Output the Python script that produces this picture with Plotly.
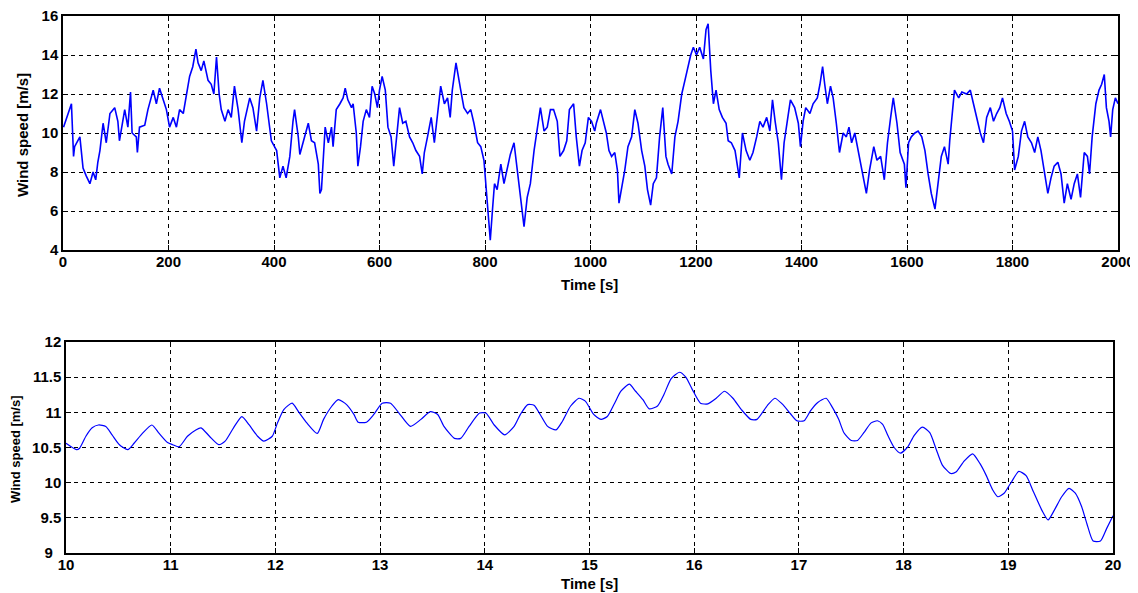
import plotly.graph_objects as go

# ---- top panel data: 0..2000 s ----
time_long = [1, 16, 20, 22, 32, 35, 38, 44, 51, 57, 62, 66, 70, 76, 82, 89, 98, 104, 107, 117,
             123, 128, 131, 139, 141, 145, 155, 161, 171, 177, 183, 190, 196, 202, 209, 215, 221, 228, 234, 240,
             246, 252, 256, 262, 267, 275, 281, 286, 291, 296, 300, 307, 313, 319, 325, 332, 339, 344, 354, 360,
             367, 373, 379, 386, 395, 405, 411, 417, 423, 430, 436, 439, 446, 449, 455, 465, 471, 477, 484, 487,
             490, 493, 497, 503, 509, 512, 518, 525, 531, 535, 540, 547, 550, 556, 559, 564, 569, 575, 581, 586,
             591, 596, 600, 605, 611, 616, 622, 627, 632, 638, 644, 650, 657, 663, 669, 676, 681, 685, 691, 698,
             704, 710, 716, 723, 729, 734, 738, 745, 749, 754, 760, 767, 773, 779, 786, 792, 798, 804, 810, 814,
             818, 823, 830, 836, 842, 848, 855, 861, 867, 874, 880, 886, 893, 899, 905, 912, 918, 924, 930, 937,
             942, 949, 955, 960, 968, 973, 979, 984, 990, 996, 1002, 1008, 1011, 1019, 1025, 1030, 1035, 1040, 1046, 1051,
             1054, 1059, 1065, 1071, 1078, 1084, 1090, 1097, 1103, 1108, 1114, 1119, 1125, 1131, 1137, 1143, 1147, 1154, 1160, 1166,
             1173, 1179, 1185, 1190, 1195, 1201, 1207, 1214, 1219, 1223, 1228, 1233, 1238, 1244, 1250, 1257, 1261, 1267, 1274, 1282,
             1288, 1295, 1302, 1308, 1315, 1321, 1327, 1334, 1340, 1345, 1350, 1356, 1362, 1367, 1373, 1379, 1387, 1394, 1398, 1403,
             1408, 1416, 1422, 1430, 1435, 1440, 1444, 1449, 1455, 1460, 1466, 1472, 1479, 1485, 1490, 1495, 1501, 1508, 1514, 1523,
             1529, 1537, 1543, 1550, 1557, 1563, 1569, 1574, 1581, 1587, 1595, 1598, 1603, 1608, 1615, 1621, 1628, 1634, 1640, 1646,
             1653, 1659, 1665, 1671, 1678, 1681, 1686, 1690, 1698, 1704, 1713, 1720, 1726, 1733, 1739, 1745, 1751, 1758, 1764, 1770,
             1776, 1781, 1788, 1794, 1800, 1804, 1811, 1817, 1823, 1829, 1836, 1842, 1848, 1854, 1861, 1867, 1873, 1879, 1886, 1892,
             1898, 1904, 1911, 1917, 1923, 1929, 1936, 1942, 1946, 1951, 1958, 1964, 1969, 1974, 1978, 1983, 1986, 1990, 1995, 2000]
speed_long = [10.3, 11.5, 8.8, 9.3, 9.8, 8.8, 8.2, 7.8, 7.4, 8.0, 7.6, 8.5, 9.1, 10.5, 9.5, 11.0, 11.3, 10.6, 9.6, 11.2,
              10.3, 12.1, 10.0, 9.8, 9.0, 10.3, 10.4, 11.2, 12.2, 11.5, 12.3, 11.7, 11.2, 10.3, 10.8, 10.3, 11.2, 11.0, 12.0, 12.9,
              13.4, 14.3, 13.6, 13.2, 13.7, 12.7, 12.5, 12.0, 13.9, 12.0, 11.2, 10.6, 11.2, 10.8, 12.4, 11.2, 9.5, 10.6, 11.8, 11.3,
              10.1, 11.8, 12.7, 11.5, 9.6, 9.1, 7.7, 8.3, 7.7, 8.8, 10.6, 11.2, 9.8, 8.9, 9.5, 10.5, 9.6, 9.5, 8.4, 6.9,
              7.1, 8.6, 10.3, 9.5, 10.3, 9.3, 11.2, 11.5, 11.8, 12.3, 11.7, 11.3, 11.5, 10.0, 8.3, 9.3, 10.6, 11.2, 10.8, 12.4,
              12.0, 11.3, 12.2, 12.9, 12.2, 10.3, 9.8, 8.3, 9.8, 11.3, 10.5, 10.6, 9.8, 9.5, 9.1, 8.8, 7.9, 9.0, 9.8, 10.8,
              9.5, 10.8, 12.4, 11.5, 11.8, 10.8, 12.2, 13.6, 12.9, 12.2, 11.3, 11.0, 11.2, 10.5, 9.5, 9.3, 8.6, 6.7, 4.5, 6.0,
              7.4, 7.1, 8.4, 7.4, 8.1, 8.9, 9.5, 8.1, 6.7, 5.2, 6.7, 7.4, 9.1, 10.3, 11.3, 10.1, 10.3, 11.2, 11.2, 10.6,
              8.8, 9.1, 9.6, 11.2, 11.5, 9.8, 8.3, 9.1, 9.5, 10.8, 10.6, 10.1, 10.5, 11.2, 10.5, 10.0, 9.1, 8.8, 9.0, 8.1,
              6.4, 7.1, 8.1, 9.3, 9.8, 11.2, 10.5, 9.1, 8.3, 7.1, 6.3, 7.4, 7.7, 9.8, 11.3, 8.8, 8.4, 7.9, 9.8, 10.6,
              12.0, 12.7, 13.5, 14.0, 14.4, 14.0, 14.4, 13.8, 15.3, 15.6, 13.2, 11.5, 12.2, 11.2, 10.8, 10.5, 9.6, 9.5, 9.1, 7.7,
              10.0, 9.1, 8.6, 9.0, 9.8, 10.6, 10.3, 10.8, 10.1, 11.7, 10.6, 9.5, 7.6, 9.5, 10.6, 11.7, 11.3, 10.5, 9.3, 10.6,
              11.3, 11.0, 11.5, 11.8, 12.5, 13.4, 12.5, 11.5, 12.4, 11.8, 10.5, 9.0, 10.0, 9.8, 10.3, 9.5, 10.0, 9.0, 8.3, 6.9,
              8.1, 9.3, 8.6, 8.8, 7.6, 9.5, 10.8, 11.8, 10.5, 9.0, 8.4, 7.2, 9.5, 9.8, 10.0, 10.1, 9.8, 9.1, 7.9, 6.9,
              6.1, 7.4, 8.8, 9.3, 8.4, 9.6, 11.0, 12.2, 11.8, 12.1, 12.0, 12.2, 11.5, 10.6, 10.0, 9.5, 10.8, 11.3, 10.6, 11.0,
              11.3, 11.8, 11.0, 10.6, 10.1, 8.1, 8.8, 10.1, 10.6, 9.8, 9.5, 9.0, 9.8, 9.1, 7.9, 6.9, 7.7, 8.3, 8.5, 7.9,
              6.4, 7.4, 6.6, 7.4, 7.9, 6.7, 9.0, 8.8, 7.9, 9.8, 11.5, 12.2, 12.5, 13.0, 11.3, 10.6, 9.8, 11.2, 11.8, 11.5]

# ---- bottom panel data: 10..20 s ----
time_short = [10.0, 10.1, 10.13, 10.19, 10.25, 10.31, 10.38, 10.44, 10.51, 10.59, 10.65, 10.73, 10.82, 10.89, 10.97,
              11.02, 11.08, 11.16, 11.24, 11.29, 11.37, 11.46, 11.52, 11.6, 11.68, 11.75, 11.83, 11.89, 11.97, 12.02,
              12.08, 12.16, 12.22, 12.3, 12.4, 12.46, 12.54, 12.6, 12.68, 12.75, 12.79, 12.87, 12.94, 13.02, 13.1,
              13.18, 13.29, 13.39, 13.48, 13.55, 13.61, 13.71, 13.77, 13.85, 13.95, 14.01, 14.09, 14.19, 14.28, 14.34,
              14.41, 14.47, 14.54, 14.6, 14.68, 14.74, 14.82, 14.9, 14.96, 15.04, 15.11, 15.17, 15.24, 15.3, 15.38,
              15.44, 15.51, 15.57, 15.65, 15.71, 15.78, 15.86, 15.92, 15.98, 16.06, 16.13, 16.21, 16.29, 16.37, 16.45,
              16.54, 16.6, 16.7, 16.77, 16.84, 16.92, 16.98, 17.05, 17.11, 17.18, 17.26, 17.32, 17.38, 17.43, 17.5,
              17.56, 17.62, 17.69, 17.75, 17.8, 17.85, 17.91, 17.97, 18.04, 18.1, 18.18, 18.25, 18.31, 18.37, 18.45,
              18.5, 18.58, 18.66, 18.73, 18.79, 18.85, 18.9, 18.96, 19.03, 19.1, 19.17, 19.24, 19.32, 19.38, 19.44,
              19.51, 19.58, 19.64, 19.7, 19.75, 19.81, 19.88, 19.94, 20.0]
speed_short = [10.56, 10.47, 10.49, 10.66, 10.78, 10.82, 10.8, 10.68, 10.54, 10.47, 10.56, 10.7, 10.82, 10.7, 10.57,
               10.54, 10.51, 10.66, 10.75, 10.78, 10.66, 10.54, 10.59, 10.78, 10.94, 10.82, 10.66, 10.59, 10.66, 10.85,
               11.04, 11.13, 11.01, 10.85, 10.7, 10.9, 11.09, 11.18, 11.11, 10.97, 10.86, 10.86, 10.97, 11.13, 11.13,
               10.99, 10.8, 10.9, 11.01, 10.97, 10.8, 10.63, 10.63, 10.8, 10.99, 10.99, 10.82, 10.68, 10.8, 10.97,
               11.11, 11.1, 10.94, 10.8, 10.75, 10.87, 11.09, 11.2, 11.16, 10.97, 10.9, 10.94, 11.13, 11.3, 11.4,
               11.3, 11.18, 11.05, 11.09, 11.25, 11.48, 11.57, 11.5, 11.33, 11.13, 11.12, 11.2, 11.3, 11.2, 11.04,
               10.9, 10.9, 11.1, 11.2, 11.12, 10.98, 10.88, 10.88, 11.02, 11.14, 11.2, 11.07, 10.9, 10.71, 10.6,
               10.6, 10.71, 10.85, 10.88, 10.83, 10.67, 10.5, 10.42, 10.51, 10.67, 10.79, 10.71, 10.48, 10.25, 10.13,
               10.15, 10.31, 10.41, 10.27, 10.1, 9.9, 9.8, 9.85, 10.01, 10.16, 10.1, 9.87, 9.61, 9.47, 9.61,
               9.8, 9.92, 9.85, 9.66, 9.42, 9.17, 9.17, 9.35, 9.53]

top_xticks = list(range(0, 2001, 200))
top_yticks = [4, 6, 8, 10, 12, 14, 16]
bot_xticks = list(range(10, 21))
bot_yticks = [9, 9.5, 10, 10.5, 11, 11.5, 12]
bot_yticklabels = ["9\u00a0\u00a0", "9.5", "10", "10.5", "11", "11.5", "12"]

W, H = 1138, 593
OFF = 8  # page body margin
FONT = "Liberation Sans"


def px(v):
    return (v - OFF) / W


def py(v):
    return 1 - (v - OFF) / H


fig = go.Figure()
fig.add_trace(go.Scatter(x=time_long, y=speed_long, mode="lines",
                         line=dict(color="#0000ff", width=1.6), xaxis="x", yaxis="y",
                         showlegend=False))
fig.add_trace(go.Scatter(x=time_short, y=speed_short, mode="lines",
                         line=dict(color="#0000ff", width=1.2, shape="spline", smoothing=0.6),
                         xaxis="x2", yaxis="y2", showlegend=False))

axis_common = dict(showline=True, linecolor="black", linewidth=1.5, mirror="ticks",
                   ticks="inside", ticklen=5, tickcolor="black", tickwidth=1.2,
                   showgrid=True, gridcolor="black", gridwidth=1, griddash="4px,4px",
                   zeroline=False, automargin=False, ticklabeloverflow="allow",
                   tickfont=dict(family=FONT, size=15, color="black", weight="bold"))

fig.update_layout(
    width=W, height=H,
    margin=dict(l=0, r=0, t=0, b=0, pad=0, autoexpand=False),
    paper_bgcolor="white", plot_bgcolor="white",
    xaxis=dict(domain=[px(63), px(1118)], range=[0, 2000], tickvals=top_xticks,
               anchor="y", **axis_common),
    yaxis=dict(domain=[py(250), py(16)], range=[4, 16], tickvals=top_yticks,
               anchor="x", **axis_common),
    xaxis2=dict(domain=[px(66), px(1113)], range=[10, 20], tickvals=bot_xticks,
                anchor="y2", **axis_common),
    yaxis2=dict(domain=[py(553), py(342)], range=[9, 12], tickvals=bot_yticks,
                ticktext=bot_yticklabels, anchor="x2", **axis_common),
)
fig.update_xaxes(ticklabelstandoff=-3)

title_font = dict(family=FONT, size=15, color="black", weight="bold")
anno_common = dict(xref="paper", yref="paper", showarrow=False, xanchor="center", yanchor="middle")
annos = [
    dict(text="Time [s]", x=px(589), y=py(284), font=title_font, **anno_common),
    dict(text="Wind speed [m/s]", x=px(22), y=py(135), textangle=-90,
         font=dict(family=FONT, size=15, color="black", weight="bold"), **anno_common),
    dict(text="Time [s]", x=px(589), y=py(583), font=title_font, **anno_common),
    dict(text="Wind speed [m/s]", x=px(15), y=py(449), textangle=-90,
         font=dict(family=FONT, size=13, color="black", weight="bold"), **anno_common),
]
fig.update_layout(annotations=annos)

fig.write_html("out.html")
